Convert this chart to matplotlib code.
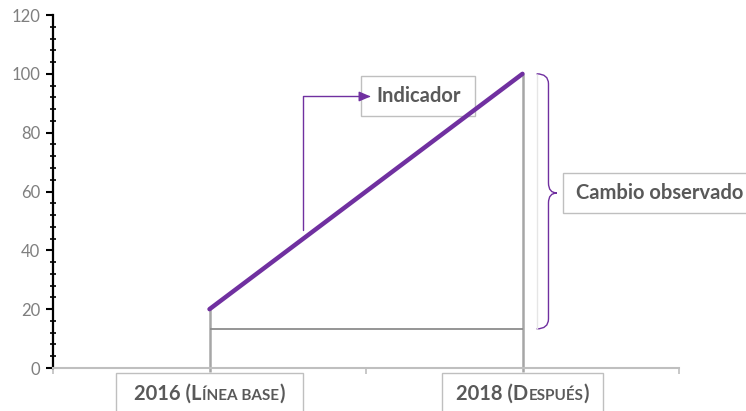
import numpy as np
import matplotlib.pyplot as plt
from matplotlib.path import Path
from matplotlib.patches import PathPatch
from matplotlib.offsetbox import TextArea, HPacker, DrawingArea, AnnotationBbox
from matplotlib.ticker import MultipleLocator

# data
categorias = ["2016", "2018"]
etiquetas = [[("2016 (L", 14.5), ("ÍNEA BASE", 11), (")", 14.5)],
             [("2018 (D", 14.5), ("ESPUÉS", 11), (")", 14.5)]]
valores = [20, 100]
nivel_base = 13.3
punto_flecha = (0.30, 47)   # start of the "Indicador" call-out arrow
texto_indicador = "Indicador"
texto_cambio = "Cambio observado"

purple = "#7030A0"
txt_gray = "#595959"
tick_gray = "#7f7f7f"

plt.rcParams['font.family'] = ['Lato', 'DejaVu Sans']

fig = plt.figure(figsize=(7.46, 4.11), dpi=100)
ax = fig.add_axes([53/746, 43/411, 626/746, 353/411])


def caja(partes, xy, align, hpad, alto, offset=(0, 0)):
    # framed text; hpad = side space, alto = box height (points)
    areas = [TextArea(s, textprops=dict(fontsize=fs, fontweight='bold', color=txt_gray))
             for s, fs in partes]
    inner = HPacker(children=areas, align='baseline', pad=0, sep=0)
    box = HPacker(children=[DrawingArea(hpad, alto), inner, DrawingArea(hpad, alto)],
                  align='center', pad=0, sep=0)
    ab = AnnotationBbox(box, xy, xybox=offset, xycoords='data',
                        boxcoords='offset points', box_alignment=align,
                        frameon=True, pad=0, annotation_clip=False, zorder=4,
                        bboxprops=dict(edgecolor='#bfbfbf', lw=1, facecolor='white'))
    ax.add_artist(ab)


x = np.arange(len(categorias))

# drop lines and base line
ax.vlines(x, -1.5, valores, color="#a6a6a6", lw=1.8, clip_on=False, zorder=2)
ax.hlines(nivel_base, x[0], x[1], color="#8c8c8c", lw=1.3, zorder=2)

ax.plot(x, valores, color=purple, lw=3.2, solid_capstyle='round', zorder=5)

ax.set_xlim(-0.5, 1.5)
ax.set_ylim(0, 120)

for s in ["top", "right"]:
    ax.spines[s].set_visible(False)
ax.spines["left"].set_color("black")
ax.spines["left"].set_linewidth(1.6)
ax.spines["bottom"].set_color("#bfbfbf")
ax.spines["bottom"].set_linewidth(1.5)

ax.yaxis.set_major_locator(MultipleLocator(20))
ax.yaxis.set_minor_locator(MultipleLocator(4))
ax.tick_params(axis='y', which='major', direction='out', length=5, width=1.5,
               color='black', labelcolor=tick_gray, labelsize=12, pad=4)
ax.tick_params(axis='y', which='minor', direction='inout', length=5, width=1.2, color='black')
ax.set_xticks([-0.5, 0.5, 1.5])
ax.set_xticklabels([])
ax.tick_params(axis='x', direction='out', length=4, width=1.2, color='#bfbfbf')

# category labels in boxes (small caps imitation)
for xi, partes, hp in zip(x, etiquetas, [13.5, 10.4]):
    caja(partes, (xi, 0), (0.5, 1), hp, 30, offset=(0, -3.6))

# Indicador call-out
ax.annotate("", xy=(0.515, 92.3), xytext=punto_flecha, zorder=6,
            arrowprops=dict(arrowstyle='-|>,head_length=0.7,head_width=0.3', color=purple,
                            lw=1.0, shrinkA=0, shrinkB=0,
                            connectionstyle='angle,angleA=90,angleB=180,rad=0'))
caja([(texto_indicador, 14.5)], (0.667, 92.5), (0.5, 0.5), 10.6, 28.8)

# brace showing the observed change
top, bot = valores[1], nivel_base
mid = 59.5
x0, x1, x2 = 1.045, 1.083, 1.11
r = 3.4
verts = [(x0, top), (x1, top), (x1, top - r),
         (x1, mid + r), (x1, mid), (x2, mid),
         (x1, mid), (x1, mid - r),
         (x1, bot + r), (x1, bot), (x0, bot)]
codes = [Path.MOVETO, Path.CURVE3, Path.CURVE3,
         Path.LINETO, Path.CURVE3, Path.CURVE3,
         Path.CURVE3, Path.CURVE3,
         Path.LINETO, Path.CURVE3, Path.CURVE3]
ax.add_patch(PathPatch(Path(verts, codes), fill=False, edgecolor=purple, lw=1.0, clip_on=False))
ax.vlines(x0, bot, top, color="#e6e6e6", lw=1, clip_on=False, zorder=1)

caja([(texto_cambio, 14.5)], (1.128, mid), (0, 0.5), 9.4, 28.8)

fig.savefig("out.png", dpi=100)
